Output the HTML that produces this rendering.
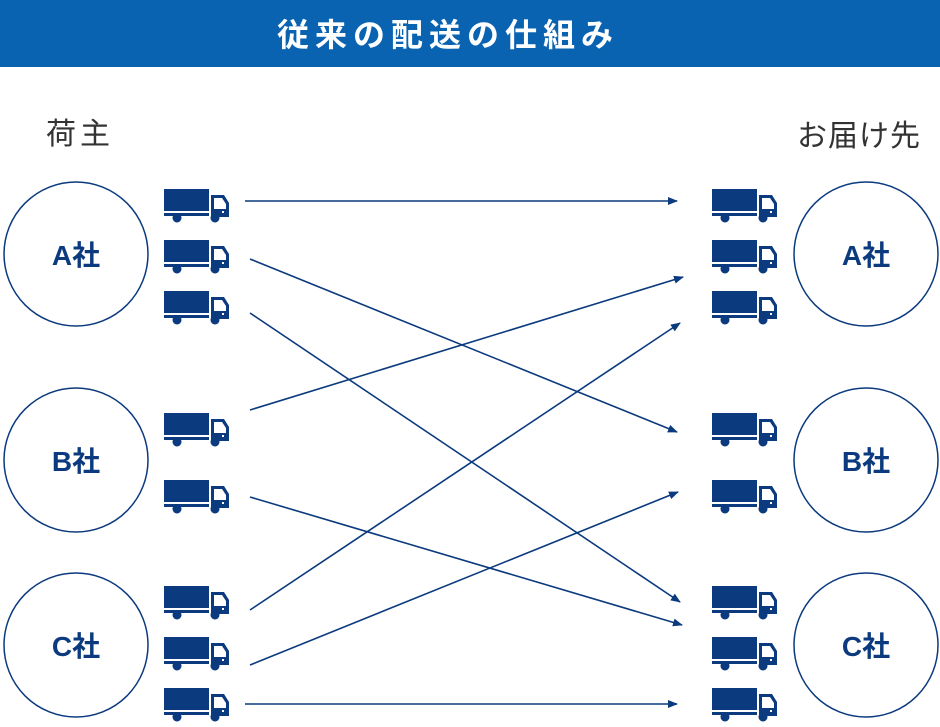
<!DOCTYPE html>
<html><head><meta charset="utf-8"><style>
body{margin:0;background:#fff;width:940px;height:722px;overflow:hidden;font-family:"Liberation Sans","Noto Sans CJK JP",sans-serif;}
</style></head><body>
<svg width="940" height="722" viewBox="0 0 940 722" xmlns="http://www.w3.org/2000/svg">
<defs>
<g id="t">
<rect x="0" y="0" width="45" height="22" fill="#0b3a7e"/>
<rect x="0" y="24" width="45" height="3" fill="#0b3a7e"/>
<path d="M47 6 H60 L65 14 V28 H47 Z" fill="#0b3a7e"/>
<path d="M50 9 H58 L62 15 V20 H50 Z" fill="#fff"/>
<rect x="58" y="22" width="2" height="2" fill="#fff"/>
<circle cx="13" cy="29" r="4.5" fill="#0b3a7e"/>
<circle cx="51" cy="29" r="4.5" fill="#0b3a7e"/>
</g>
<marker id="a" markerWidth="10" markerHeight="8" refX="9" refY="4" orient="auto" markerUnits="userSpaceOnUse">
<path d="M0 0 L10 4 L0 8 Z" fill="#0b3a7e"/></marker>
</defs>
<rect x="0" y="0" width="940" height="67" fill="#0a63b1"/>
<text x="448" y="46" text-anchor="middle" fill="#fff" font-size="32" font-weight="bold" font-family="Liberation Sans,Noto Sans CJK JP,sans-serif" letter-spacing="6">従来の配送の仕組み</text>
<text x="46" y="144" fill="#333" font-size="30" font-family="Liberation Sans,Noto Sans CJK JP,sans-serif" letter-spacing="4">荷主</text>
<text x="797" y="146" fill="#333" font-size="30" font-family="Liberation Sans,Noto Sans CJK JP,sans-serif" letter-spacing="1">お届け先</text>
<g fill="#fff" stroke="#0b3a7e" stroke-width="1.5">
<circle cx="76" cy="254" r="72"/><circle cx="76" cy="460" r="72"/><circle cx="76" cy="645" r="72"/>
<circle cx="866" cy="254" r="72"/><circle cx="866" cy="460" r="72"/><circle cx="866" cy="645" r="72"/>
</g>
<g fill="#0b3a7e" font-size="28" font-weight="bold" text-anchor="middle" font-family="Liberation Sans,Noto Sans CJK JP,sans-serif">
<text x="76" y="265">A社</text><text x="76" y="471">B社</text><text x="76" y="656">C社</text>
<text x="866" y="265">A社</text><text x="866" y="471">B社</text><text x="866" y="656">C社</text>
</g>
<g>
<use href="#t" x="164" y="189"/><use href="#t" x="164" y="240"/><use href="#t" x="164" y="291"/>
<use href="#t" x="164" y="413"/><use href="#t" x="164" y="480"/>
<use href="#t" x="164" y="586"/><use href="#t" x="164" y="637"/><use href="#t" x="164" y="688"/>
<use href="#t" x="712" y="189"/><use href="#t" x="712" y="240"/><use href="#t" x="712" y="291"/>
<use href="#t" x="712" y="413"/><use href="#t" x="712" y="480"/>
<use href="#t" x="712" y="586"/><use href="#t" x="712" y="637"/><use href="#t" x="712" y="688"/>
</g>
<g stroke="#0b3a7e" stroke-width="1.6" marker-end="url(#a)">
<line x1="245" y1="201" x2="677" y2="201"/>
<line x1="250" y1="259" x2="677" y2="432"/>
<line x1="250" y1="313" x2="680" y2="602"/>
<line x1="250" y1="410" x2="683" y2="277"/>
<line x1="250" y1="497" x2="682" y2="625"/>
<line x1="250" y1="610" x2="680" y2="323"/>
<line x1="250" y1="665" x2="678" y2="492"/>
<line x1="245" y1="704" x2="677" y2="704"/>
</g>
</svg>
</body></html>
